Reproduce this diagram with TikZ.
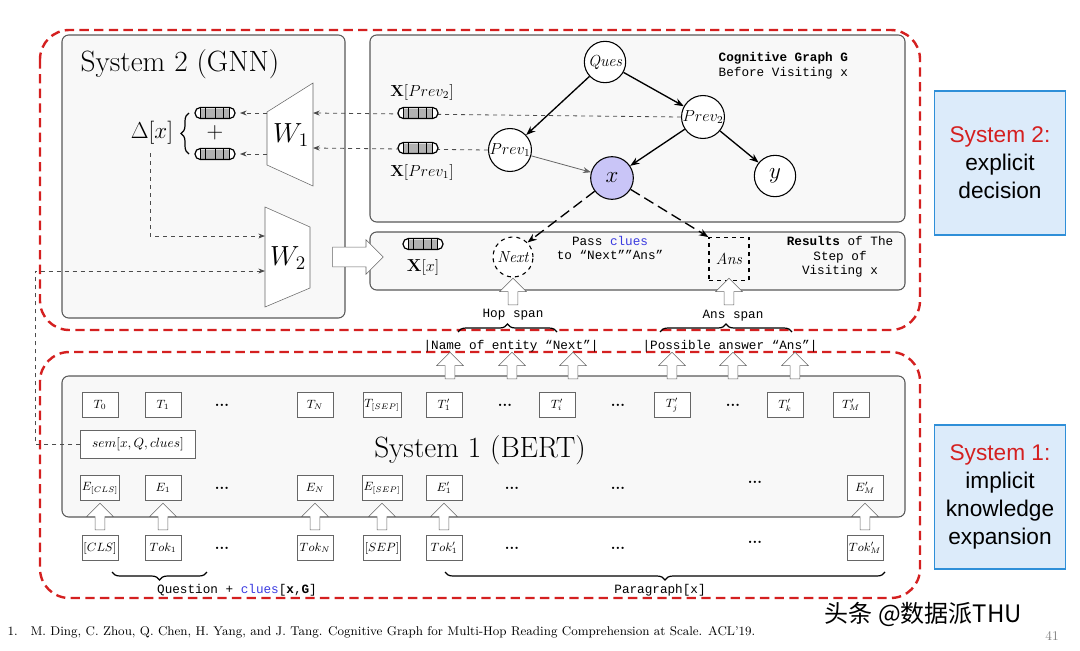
\documentclass[tikz,border=0pt]{standalone}
\usepackage{fontspec}
\usepackage{amsmath}
\setmainfont{Latin Modern Roman}
\newfontfamily\mono{Liberation Mono}
\newfontfamily\sans{Liberation Sans}
\newfontfamily\cjk{Noto Sans CJK SC}
\usetikzlibrary{shapes.arrows,arrows.meta,decorations.pathreplacing,calc}
\definecolor{redd}{HTML}{D42020}
\definecolor{panel}{HTML}{F8F8F8}
\definecolor{lav}{HTML}{C9C5F7}
\definecolor{bluef}{HTML}{DCEBFA}
\definecolor{blueb}{HTML}{2F8FD8}
\definecolor{clue}{HTML}{3A3AE0}
\begin{document}
\begin{tikzpicture}[x=0.75pt,y=-0.75pt,
 redbox/.style={draw=redd,line width=1.8pt,dash pattern=on 7pt off 4pt,rounded corners=22pt},
 pan/.style={draw=black!65,fill=panel,line width=0.8pt,rounded corners=5pt},
 gn/.style={circle,draw,fill=white,line width=0.8pt,minimum size=31pt,inner sep=0pt,font=\fontsize{12}{12}\selectfont\itshape},
 ga/.style={-{Stealth[length=7pt]},line width=1pt},
 dsh/.style={dashed,draw=black!70,line width=0.6pt},
 tb/.style={draw=black!60,fill=white,minimum width=27pt,minimum height=19pt,inner sep=1pt,font=\fontsize{9}{9}\selectfont},
 dt/.style={font=\bfseries\fontsize{11}{11}\selectfont},
 hup/.style={single arrow,draw=black!60,fill=white,shape border rotate=90,minimum height=20pt,minimum width=20pt,single arrow head extend=3pt,inner sep=1.5pt},
 mono/.style={font=\mono\fontsize{9.5}{11}\selectfont},
 br/.style={decorate,decoration={brace,amplitude=6pt},line width=0.9pt},
 side/.style={draw=blueb,fill=bluef,line width=1pt,align=center,font=\sans\fontsize{17}{21}\selectfont,minimum width=98pt,minimum height=108pt},
 vec/.pic={\fill[white,rounded corners=4pt] (-20,-5.5) rectangle (20,5.5);
  \fill[black!30] (-14,-4.5) rectangle (14,4.5);
  \draw[line width=0.9pt,rounded corners=4pt] (-20,-5.5) rectangle (20,5.5);
  \foreach \u in {-15,-10,0,8,14} \draw[line width=0.6pt] (\u,-5.5)--(\u,5.5);}
]
\useasboundingbox (0,0) rectangle (1080,650);
% panels
\draw[pan] (62,35) rectangle (345,318);
\draw[pan] (370,35) rectangle (905,222);
\draw[pan] (370,232) rectangle (905,290);
\draw[pan] (62,376) rectangle (905,517);
\draw[redbox] (40,30) rectangle (920,330);
\draw[redbox] (40,352) rectangle (920,598);
% side boxes
\node[side] (s2) at (1000,163) {\textcolor{redd}{System 2:}\\explicit\\decision};
\node[side] (s1) at (1000,497) {\textcolor{redd}{System 1:}\\implicit\\knowledge\\expansion};
% graph nodes first (for names)
\node[gn] (q) at (605,62) {Ques};
\node[gn] (p2) at (703,117) {$Prev_2$};
\node[gn] (p1) at (510,150) {$Prev_1$};
\node[gn,fill=lav,minimum size=32pt] (x) at (612,178) {\fontsize{17}{17}\selectfont$x$};
\node[gn] (y) at (775,176) {\fontsize{17}{17}\selectfont$y$};
% System 2
\node[font=\fontsize{22}{22}\selectfont] (t2) at (180,64) {System 2 (GNN)};
\coordinate (w1t) at (313,113);
\coordinate (w1b) at (313,148);
\coordinate (v2r) at (240,113);
\coordinate (v1r) at (240,154);
\draw[dsh,-{Stealth[length=5pt]}] (p2.west)--(w1t);
\draw[dsh,-{Stealth[length=5pt]}] (p1.west)--(w1b);
\draw[draw=black!60,fill=white] (267,112)--(313,83)--(313,186)--(267,165)--cycle;
\node[font=\fontsize{21}{21}\selectfont] (w1) at (291,135) {$W_1$};
\draw[draw=black!60,fill=white] (265,207)--(310,227)--(310,288)--(265,307)--cycle;
\node[font=\fontsize{21}{21}\selectfont] (w2) at (288,258) {$W_2$};
\pic at (215,113) {vec};
\pic at (215,154) {vec};
\node[font=\fontsize{18}{18}\selectfont] (pl) at (215,133) {$+$};
\node[font=\fontsize{16}{16}\selectfont] (dx) at (152,133) {$\Delta[x]$};
\draw[br] (189,154)--(189,113);
\pic at (418,113) {vec};
\pic at (418,148) {vec};
\node[font=\fontsize{12}{12}\selectfont] (lp2) at (422,92) {$\mathbf{X}[Prev_2]$};
\node[font=\fontsize{12}{12}\selectfont] (lp1) at (422,172) {$\mathbf{X}[Prev_1]$};
\draw[dsh,-{Stealth[length=5pt]}] (267,113)--(v2r);
\draw[dsh,-{Stealth[length=5pt]}] (267,154)--(v1r);
\draw[dsh,-{Stealth[length=5pt]}] (150,153)--(150,236)--(265,236);
% graph edges
\draw[ga] (q)--(p1);
\draw[ga] (q)--(p2);
\draw[ga] (p2)--(x);
\draw[ga] (p2)--(y);
\draw[-{Stealth[length=6pt]},draw=black!60,line width=0.6pt] (p1)--(x);
\node[mono,align=left,anchor=west] (cg) at (714,66) {\textbf{Cognitive Graph G}\\Before Visiting x};
% results
\pic at (423,244) {vec};
\node[font=\fontsize{13}{13}\selectfont] (xx) at (423,267) {$\mathbf{X}[x]$};
\node[gn,dashed,minimum size=30pt] (nx) at (513,257) {Next};
\node[draw,dashed,line width=0.9pt,minimum width=30pt,minimum height=32pt,font=\fontsize{12}{12}\selectfont\itshape] (ans) at (729,259) {Ans};
\draw[ga,dashed,dash pattern=on 8pt off 4pt] (x)--(nx.north east);
\draw[ga,dashed,dash pattern=on 8pt off 4pt] (x)--(ans.north west);
\node[mono,align=center] (pc) at (610,248) {Pass \textcolor{clue}{clues}\\to “Next””Ans”};
\node[mono,align=center] (rs) at (840,257) {\textbf{Results} of The\\Step of\\Visiting x};
\node[single arrow,draw=black!60,fill=white,minimum height=38pt,minimum width=26pt,single arrow head extend=2pt,inner sep=2.5pt] (bigarr) at (353,257) {};
% spans
\node[hup] (ha) at (513,294) {};
\node[hup] (hb) at (729,294) {};
\node[mono] (hs) at (513,315) {Hop span};
\node[mono] (as) at (733,316) {Ans span};
\draw[br] (458,332)--(557,332);
\draw[br] (660,332)--(792,332);
\node[mono] (ne) at (511,346) {|Name of entity “Next”|};
\node[mono] (pa) at (730,346) {|Possible answer “Ans”|};
\foreach \xx in {450,512,573,672,733,795} \node[hup] at (\xx,368) {};
% System 1
\foreach \n/\xx/\t in {a/100/{$T_0$},b/163/{$T_1$},c/315/{$T_N$},d/382/{$T_{[SEP]}$},e/444/{$T'_1$},f/557/{$T'_i$},g/672/{$T'_j$},h/785/{$T'_k$},i/851/{$T'_M$}}
  \node[tb] (T\n) at (\xx,405) {\t};
\foreach \xx in {222,505,618,733} \node[dt] at (\xx,405) {...};
\node[tb,minimum width=86pt,minimum height=21pt,font=\fontsize{10}{10}\selectfont] (sem) at (138,444) {$sem[x,Q,clues]$};
\node[font=\fontsize{22}{22}\selectfont] (t1) at (480,450) {System 1 (BERT)};
\foreach \n/\xx/\t in {a/100/{$E_{[CLS]}$},b/163/{$E_1$},c/315/{$E_N$},d/382/{$E_{[SEP]}$},e/444/{$E'_1$},i/865/{$E'_M$}}
  \node[tb] (E\n) at (\xx,488) {\t};
\foreach \n/\xx/\t in {a/100/{$[CLS]$},b/163/{$Tok_1$},c/315/{$Tok_N$},d/382/{$[SEP]$},e/444/{$Tok'_1$},i/865/{$Tok'_M$}}
  \node[tb] (K\n) at (\xx,548) {\t};
\foreach \xx in {222,512,618} {\node[dt] at (\xx,488) {...}; \node[dt] at (\xx,548) {...};}
\node[dt] at (755,482) {...};
\node[dt] at (755,542) {...};
\foreach \xx in {100,163,315,382,444,865} \node[hup] at (\xx,519) {};
\draw[br] (207,572)--(112,572);
\draw[br] (885,572)--(445,572);
\node[mono] (qc) at (237,590) {Question + \textcolor{clue}{clues}[\textbf{x},\textbf{G}]};
\node[mono] (pg) at (660,590) {Paragraph[x]};
% dashed sem to W2
\draw[dsh,-{Stealth[length=5pt]}] (sem.west)--(35,444)--(35,271)--(265,271);
% footer
\node[anchor=west,font=\fontsize{9.5}{10}\selectfont] (ft) at (3,632) {1.\quad M. Ding, C. Zhou, Q. Chen, H. Yang, and J. Tang. Cognitive Graph for Multi-Hop Reading Comprehension at Scale. ACL’19.};
\node[font=\cjk\fontsize{18}{18}\selectfont,anchor=west] (wm) at (820,614) {头条 @数据派THU};
\node[font=\fontsize{10}{10}\selectfont,text=black!50] (pg41) at (1052,636) {41};
\end{tikzpicture}
\end{document}
